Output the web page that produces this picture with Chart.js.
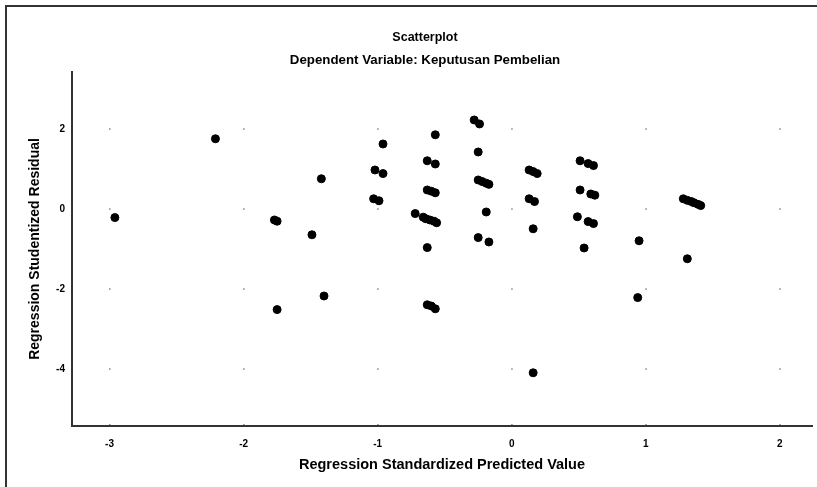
<!DOCTYPE html>
<html>
<head>
<meta charset="utf-8">
<script src="https://cdn.jsdelivr.net/npm/chart.js@4/dist/chart.umd.min.js"></script>
<style>
  html, body { margin: 0; padding: 0; background: #fff; }
  canvas { display: block; }
</style>
</head>
<body>
<canvas id="scatter" width="817" height="487"></canvas>
<script>
// Regression Standardized Predicted Value
const predicted = [
  -2.96, -2.21, -1.77, -1.75, -1.49, -1.42, -1.75, -1.40,
  -0.96, -1.02, -0.96, -1.03, -0.99,
  -0.57, -0.63, -0.57, -0.63, -0.60, -0.57, -0.72, -0.66, -0.64, -0.61, -0.58, -0.56, -0.63, -0.63, -0.60, -0.57,
  -0.28, -0.24, -0.25, -0.25, -0.22, -0.19, -0.17, -0.19, -0.25, -0.17,
  0.13, 0.16, 0.19, 0.13, 0.17, 0.16, 0.16,
  0.51, 0.57, 0.61, 0.51, 0.59, 0.62, 0.49, 0.57, 0.61, 0.54,
  0.95, 0.94,
  1.28, 1.31, 1.34, 1.36, 1.39, 1.41, 1.31
]
// Regression Studentized Residual
const residual = [
  -0.22, 1.75, -0.28, -0.31, -0.65, 0.75, -2.52, -2.18,
  1.62, 0.97, 0.88, 0.25, 0.20,
  1.85, 1.20, 1.12, 0.47, 0.44, 0.40, -0.12, -0.21, -0.25, -0.28, -0.31, -0.35, -0.97, -2.40, -2.43, -2.50,
  2.22, 2.12, 1.42, 0.72, 0.68, 0.64, 0.61, -0.08, -0.72, -0.83,
  0.97, 0.93, 0.88, 0.25, 0.18, -0.50, -4.10,
  1.20, 1.13, 1.08, 0.47, 0.37, 0.34, -0.20, -0.32, -0.37, -0.98,
  -0.80, -2.22,
  0.25, 0.21, 0.18, 0.15, 0.11, 0.08, -1.25
]
const xTicks = [-3, -2, -1, 0, 1, 2]
const yTicks = [-4, -2, 0, 2]

const points = predicted.map((x, i) => ({ x: x, y: residual[i] }))

const font = (size) => ({ family: "'Liberation Sans', Arial, sans-serif", size: size, weight: "bold" })

// frame round the output and the small grey dots where ticks cross
const spssDecor = {
  id: "spssDecor",
  beforeDraw(chart) {
    const c = chart.ctx
    c.save()
    c.fillStyle = "#fff"
    c.fillRect(0, 0, chart.width, chart.height)
    c.strokeStyle = "#333"
    c.lineWidth = 2
    c.beginPath()
    c.moveTo(6, chart.height)
    c.lineTo(6, 6)
    c.lineTo(chart.width, 6)
    c.stroke()
    const xs = chart.scales.x, ys = chart.scales.y
    c.fillStyle = "#888"
    xTicks.forEach((tx) => {
      const px = xs.getPixelForValue(tx)
      yTicks.forEach((ty) => {
        c.fillRect(px - 0.5, ys.getPixelForValue(ty) - 0.5, 1.5, 1.5)
      })
      c.fillRect(px - 0.5, chart.chartArea.bottom - 2, 1.5, 1.5)
    })
    c.restore()
  },
}

new Chart(document.getElementById("scatter"), {
  type: "scatter",
  data: {
    datasets: [
      {
        data: points,
        backgroundColor: "#000",
        borderColor: "#000",
        pointRadius: 4,
        pointHoverRadius: 4,
      },
    ],
  },
  options: {
    responsive: false,
    animation: false,
    events: [],
    layout: { padding: { left: 33, right: 0, top: 0, bottom: 0 } },
    plugins: {
      legend: { display: false },
      tooltip: { enabled: false },
      title: {
        display: true,
        text: "Scatterplot",
        color: "#000",
        font: font(12.5),
        padding: { top: 30, bottom: 7 },
      },
      subtitle: {
        display: true,
        text: "Dependent Variable: Keputusan Pembelian",
        color: "#000",
        font: font(13.3),
        padding: { top: 0, bottom: 4 },
      },
    },
    scales: {
      x: {
        type: "linear",
        min: -3.28,
        max: 2.24,
        afterFit: (s) => { s.height = 61 },
        afterBuildTicks: (s) => { s.ticks = xTicks.map((v) => ({ value: v })) },
        grid: { display: false, drawTicks: false },
        border: { display: true, color: "#333", width: 2 },
        ticks: { color: "#000", font: font(10), padding: 12 },
        title: {
          display: true,
          text: "Regression Standardized Predicted Value",
          color: "#000",
          font: font(14.5),
          padding: { top: 0, bottom: 13 },
        },
      },
      y: {
        type: "linear",
        min: -5.43,
        max: 3.42,
        afterFit: (s) => { s.width = 39 },
        afterBuildTicks: (s) => { s.ticks = yTicks.map((v) => ({ value: v })) },
        grid: { display: false, drawTicks: false },
        border: { display: true, color: "#333", width: 2 },
        ticks: { color: "#000", font: font(10), padding: 7 },
        title: {
          display: true,
          text: "Regression Studentized Residual",
          color: "#000",
          font: font(14),
          padding: { top: -6, bottom: 0 },
        },
      },
    },
  },
  plugins: [spssDecor],
})
</script>
</body>
</html>
